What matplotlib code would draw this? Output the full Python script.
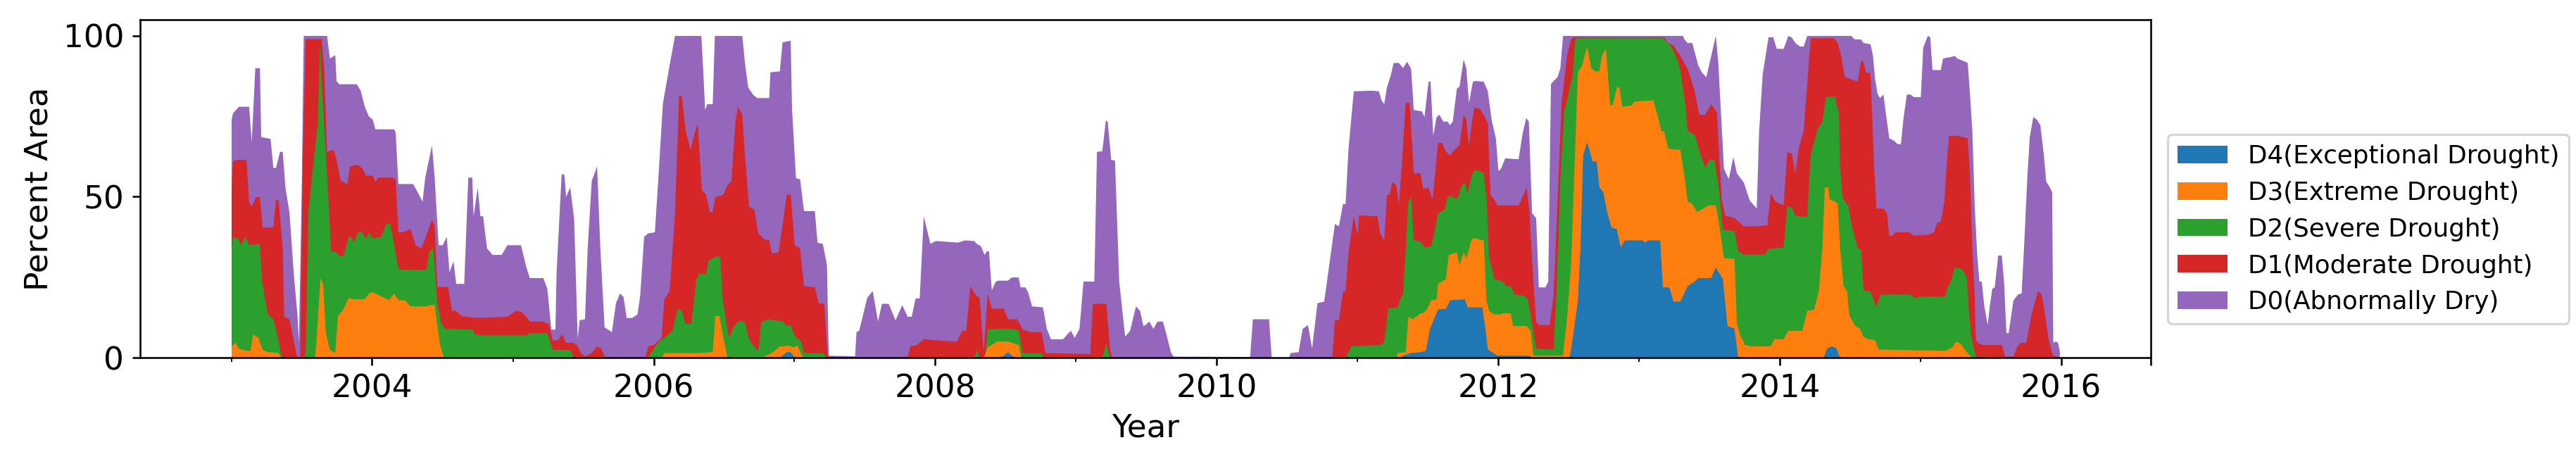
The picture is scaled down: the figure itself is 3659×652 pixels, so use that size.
import numpy as np
import pandas as pd
import matplotlib
matplotlib.use('Agg')
import matplotlib.pyplot as plt
import matplotlib.dates as mdates
from matplotlib.patches import Patch

# Percent area in drought, cumulative (D0 = D0..D4, D1 = D1..D4, ...)
# time given as decimal year

d0_year = [2003.0, 2003.01, 2003.052, 2003.124, 2003.143, 2003.168, 2003.201, 2003.21, 2003.277, 2003.296,
           2003.315, 2003.344, 2003.363, 2003.382, 2003.411, 2003.44, 2003.468, 2003.478, 2003.497, 2003.512,
           2003.678, 2003.698, 2003.736, 2003.745, 2003.764, 2003.889, 2003.917, 2003.946, 2003.975, 2004.003,
           2004.022, 2004.156, 2004.166, 2004.185, 2004.29, 2004.328, 2004.357, 2004.376, 2004.424, 2004.443,
           2004.471, 2004.5, 2004.529, 2004.548, 2004.577, 2004.596, 2004.653, 2004.682, 2004.71, 2004.72,
           2004.749, 2004.768, 2004.787, 2004.815, 2004.854, 2004.92, 2004.959, 2005.054, 2005.093, 2005.117,
           2005.213, 2005.241, 2005.27, 2005.299, 2005.307, 2005.343, 2005.362, 2005.375, 2005.404, 2005.432,
           2005.457, 2005.471, 2005.509, 2005.528, 2005.557, 2005.595, 2005.618, 2005.648, 2005.7, 2005.729,
           2005.757, 2005.782, 2005.805, 2005.843, 2005.882, 2005.901, 2005.929, 2005.958, 2006.006, 2006.034,
           2006.063, 2006.111, 2006.149, 2006.336, 2006.35, 2006.363, 2006.378, 2006.417, 2006.432, 2006.627,
           2006.646, 2006.669, 2006.703, 2006.732, 2006.818, 2006.827, 2006.894, 2006.913, 2006.971, 2006.98,
           2007.009, 2007.038, 2007.066, 2007.143, 2007.162, 2007.2, 2007.229, 2007.242, 2007.429, 2007.439,
           2007.458, 2007.515, 2007.554, 2007.592, 2007.62, 2007.668, 2007.716, 2007.764, 2007.802, 2007.831,
           2007.859, 2007.888, 2007.917, 2007.964, 2008.003, 2008.104, 2008.162, 2008.209, 2008.276, 2008.295,
           2008.324, 2008.349, 2008.368, 2008.381, 2008.401, 2008.429, 2008.448, 2008.516, 2008.544, 2008.592,
           2008.605, 2008.639, 2008.659, 2008.687, 2008.764, 2008.792, 2008.821, 2008.907, 2008.945, 2008.964,
           2008.989, 2009.022, 2009.05, 2009.127, 2009.146, 2009.184, 2009.209, 2009.222, 2009.247, 2009.274,
           2009.304, 2009.346, 2009.381, 2009.423, 2009.452, 2009.476, 2009.49, 2009.518, 2009.547, 2009.576,
           2009.614, 2009.633, 2009.671, 2009.69, 2010.235, 2010.254, 2010.369, 2010.388, 2010.512, 2010.522,
           2010.579, 2010.608, 2010.646, 2010.675, 2010.713, 2010.761, 2010.808, 2010.837, 2010.866, 2010.894,
           2010.913, 2010.933, 2010.971, 2011.101, 2011.15, 2011.169, 2011.188, 2011.207, 2011.236, 2011.255,
           2011.293, 2011.322, 2011.35, 2011.379, 2011.398, 2011.455, 2011.474, 2011.503, 2011.517, 2011.536,
           2011.56, 2011.58, 2011.608, 2011.637, 2011.656, 2011.675, 2011.704, 2011.723, 2011.752, 2011.771,
           2011.79, 2011.818, 2011.838, 2011.895, 2011.924, 2011.952, 2011.981, 2012.0, 2012.019, 2012.048,
           2012.143, 2012.172, 2012.197, 2012.216, 2012.239, 2012.268, 2012.287, 2012.334, 2012.354, 2012.373,
           2012.392, 2012.42, 2012.44, 2012.459, 2013.309, 2013.319, 2013.342, 2013.375, 2013.417, 2013.442,
           2013.475, 2013.542, 2013.559, 2013.6, 2013.634, 2013.667, 2013.692, 2013.742, 2013.783, 2013.833,
           2013.85, 2013.875, 2013.917, 2013.95, 2013.975, 2014.025, 2014.058, 2014.083, 2014.108, 2014.142,
           2014.167, 2014.192, 2014.509, 2014.517, 2014.534, 2014.575, 2014.592, 2014.642, 2014.659, 2014.675,
           2014.692, 2014.709, 2014.734, 2014.75, 2014.775, 2014.808, 2014.834, 2014.858, 2014.875, 2014.9,
           2014.925, 2014.95, 2015.0, 2015.017, 2015.05, 2015.067, 2015.083, 2015.142, 2015.158, 2015.208,
           2015.241, 2015.258, 2015.275, 2015.316, 2015.333, 2015.35, 2015.366, 2015.383, 2015.4, 2015.416,
           2015.433, 2015.45, 2015.475, 2015.491, 2015.508, 2015.525, 2015.55, 2015.575, 2015.591, 2015.608,
           2015.624, 2015.658, 2015.691, 2015.716, 2015.733, 2015.758, 2015.774, 2015.799, 2015.824, 2015.849,
           2015.874, 2015.891, 2015.916, 2015.933, 2015.941, 2015.958, 2015.975, 2015.988]
d0_pct = [74, 76, 78, 78, 67, 90, 90, 68.6, 68, 59,
          59, 64, 64, 53, 45, 27, 13, 5, 50, 100,
          100, 93, 94, 86, 85, 85, 83, 78, 75, 74,
          71, 71, 70, 54, 54, 51, 48.5, 56, 66, 56,
          35, 35, 37.6, 26.6, 30, 23, 23, 56, 56, 44,
          53, 44, 44, 34, 32, 32, 35, 35, 28, 24.8,
          24.8, 21.5, 8.8, 8.8, 26.6, 57, 57, 50, 53, 43,
          6, 11.7, 12, 34, 55, 59.5, 34, 9.5, 8, 17,
          20, 19, 12.4, 12.4, 13.5, 19.3, 37.6, 38.7, 39, 58,
          79, 91, 100, 100, 88.7, 77, 78.8, 78.8, 100, 100,
          91.6, 84, 81.8, 80.7, 80.7, 88.7, 89, 98, 98.5, 77.7,
          55.8, 55.5, 45.6, 45.6, 35.8, 35.4, 28.8, 0.7, 0.5, 8,
          8.4, 18.6, 20.8, 11.3, 16.8, 16.8, 11.7, 16.4, 12.8, 12.8,
          18.5, 18.5, 44, 35.4, 36.3, 36, 35.8, 36.5, 36.3, 35.4,
          34.7, 32, 33.2, 33, 21, 23.7, 24, 24, 25, 25,
          21.9, 21.9, 20.4, 16, 15.7, 9, 5.8, 5.8, 7.7, 8.4,
          6.2, 9, 23.7, 23.7, 64, 64.2, 73.7, 73.4, 61.5, 61.3,
          23.7, 6.6, 8.4, 16, 14.6, 9.9, 10.2, 11.3, 9, 11.3,
          11.3, 8.4, 1.8, 0.4, 0.3, 12, 12, 0, 0, 1.5,
          1.8, 9, 10.2, 2.9, 17, 17.5, 32.5, 41.6, 40.9, 47.8,
          47.8, 64.6, 82.8, 83, 82.8, 80, 78.8, 84, 88, 91.6,
          91.6, 90, 92, 89.8, 77, 76.6, 74.8, 85.8, 85.8, 69,
          74.8, 75.5, 73.4, 73.4, 72.3, 73.4, 83.6, 84.3, 92.7, 90,
          79.2, 85.8, 86, 85.8, 82.8, 73.7, 68.2, 58, 58.8, 62,
          61.7, 69.7, 74.5, 73.4, 45, 43.4, 21.9, 21.9, 23.7, 85,
          86, 87.2, 90, 100, 100, 98.9, 97.8, 97.8, 90.9, 88.7,
          87.2, 100, 92.3, 58.8, 55.5, 62.4, 57.3, 54.4, 48.9, 46.4,
          70.4, 88, 99.6, 99.6, 96, 96, 100, 99.5, 97.8, 96.7,
          96.7, 100, 100, 99.3, 98.9, 98.9, 97.8, 97.4, 94, 86.5,
          82, 80.7, 81.8, 76.3, 68.2, 67.5, 66.4, 66.4, 74, 81.8,
          81.8, 81, 81, 96.4, 100, 99.6, 89.4, 89.4, 93, 93.4,
          93.8, 93, 92.7, 92, 91.6, 81.4, 70.4, 47, 32.5, 23.7,
          23.7, 16.4, 10.2, 16.4, 21.5, 21.9, 31.8, 31.8, 23.7, 7.7,
          7.7, 17.9, 19.7, 20, 34, 57.3, 68.6, 74.8, 74, 72.3,
          63, 54.7, 53, 51.5, 4.7, 5.1, 4.7, 1.8]

d1_year = [2003.0, 2003.01, 2003.029, 2003.105, 2003.124, 2003.143, 2003.172, 2003.201, 2003.22, 2003.296,
           2003.315, 2003.334, 2003.363, 2003.373, 2003.411, 2003.44, 2003.468, 2003.487, 2003.506, 2003.526,
           2003.64, 2003.659, 2003.678, 2003.726, 2003.745, 2003.774, 2003.822, 2003.841, 2003.889, 2003.927,
           2003.955, 2004.003, 2004.022, 2004.041, 2004.137, 2004.166, 2004.185, 2004.213, 2004.271, 2004.309,
           2004.347, 2004.376, 2004.424, 2004.443, 2004.462, 2004.538, 2004.567, 2004.596, 2004.634, 2004.749,
           2004.959, 2005.016, 2005.054, 2005.093, 2005.117, 2005.203, 2005.251, 2005.28, 2005.318, 2005.346,
           2005.375, 2005.423, 2005.452, 2005.48, 2005.509, 2005.557, 2005.595, 2005.624, 2005.652, 2005.939,
           2005.958, 2005.996, 2006.054, 2006.073, 2006.111, 2006.149, 2006.178, 2006.197, 2006.225, 2006.26,
           2006.287, 2006.311, 2006.34, 2006.369, 2006.397, 2006.417, 2006.436, 2006.493, 2006.522, 2006.55,
           2006.579, 2006.598, 2006.627, 2006.646, 2006.675, 2006.713, 2006.741, 2006.78, 2006.818, 2006.837,
           2006.885, 2006.913, 2006.942, 2006.971, 2006.999, 2007.038, 2007.066, 2007.143, 2007.171, 2007.21,
           2007.234, 2007.267, 2007.802, 2007.821, 2007.869, 2007.917, 2008.152, 2008.19, 2008.219, 2008.248,
           2008.276, 2008.315, 2008.343, 2008.372, 2008.401, 2008.487, 2008.516, 2008.582, 2008.62, 2008.678,
           2008.754, 2008.783, 2009.098, 2009.117, 2009.213, 2009.241, 2009.26, 2010.818, 2010.837, 2010.866,
           2010.894, 2010.913, 2010.933, 2010.971, 2011.0, 2011.009, 2011.14, 2011.159, 2011.188, 2011.207,
           2011.226, 2011.245, 2011.274, 2011.293, 2011.312, 2011.341, 2011.369, 2011.398, 2011.446, 2011.465,
           2011.503, 2011.532, 2011.57, 2011.599, 2011.618, 2011.656, 2011.685, 2011.723, 2011.752, 2011.771,
           2011.79, 2011.809, 2011.828, 2011.866, 2011.904, 2011.924, 2011.943, 2011.981, 2011.99, 2012.143,
           2012.172, 2012.201, 2012.22, 2012.239, 2012.268, 2012.287, 2012.363, 2012.392, 2012.42, 2012.449,
           2012.487, 2012.516, 2012.535, 2013.175, 2013.204, 2013.242, 2013.29, 2013.342, 2013.392, 2013.425,
           2013.467, 2013.509, 2013.55, 2013.584, 2013.609, 2013.675, 2013.742, 2013.842, 2013.908, 2013.933,
           2013.967, 2014.025, 2014.05, 2014.083, 2014.108, 2014.133, 2014.167, 2014.217, 2014.384, 2014.409,
           2014.434, 2014.459, 2014.484, 2014.55, 2014.575, 2014.592, 2014.609, 2014.642, 2014.667, 2014.684,
           2014.734, 2014.759, 2014.775, 2014.8, 2014.817, 2014.917, 2014.95, 2015.058, 2015.092, 2015.117,
           2015.142, 2015.167, 2015.183, 2015.2, 2015.258, 2015.333, 2015.35, 2015.366, 2015.383, 2015.391,
           2015.416, 2015.45, 2015.575, 2015.6, 2015.658, 2015.683, 2015.708, 2015.749, 2015.774, 2015.791,
           2015.833, 2015.858, 2015.883, 2015.908, 2015.941, 2015.988]
d1_pct = [53, 61, 61.5, 61.5, 48.5, 47, 50, 50, 40.5, 40.5,
          49, 49, 34, 12.8, 12, 5.5, 0, 0, 63, 99,
          99, 89, 64, 64.6, 61.7, 55, 54, 59.5, 60, 59,
          56.6, 56.6, 54.7, 56, 56, 55.5, 39, 39, 40, 35,
          34, 37, 43, 41, 22, 22, 14.6, 14.6, 13, 12.4,
          12.8, 14.6, 14.4, 12.8, 11.3, 11.3, 10.6, 5.5, 5.5, 7.3,
          4.7, 4.7, 4, 1.5, 0.4, 1.5, 3.6, 3, 0, 0,
          3.6, 4, 6.2, 18.2, 20.8, 45, 81.4, 81.4, 70.4, 64.6,
          69.7, 72.6, 52, 50.7, 45.3, 45.3, 50, 50.7, 53.6, 55,
          74, 78, 75.5, 63, 47, 46, 38.7, 36.9, 36.5, 32.5,
          32.8, 41.2, 50.7, 50.7, 35, 34, 22.3, 21.9, 17, 16.8,
          0.7, 0, 0, 3.6, 4, 5.8, 5, 8.4, 8.4, 22.3,
          20, 18.6, 1.8, 20, 15.3, 15.3, 12, 12, 8.8, 8,
          8, 1.5, 1.2, 16.8, 16.8, 1.8, 0, 0, 11.7, 11.7,
          20.4, 20.8, 32.5, 44, 38, 44.3, 44, 38.7, 36.5, 50.7,
          50.7, 54.7, 53.6, 47.8, 59.5, 79.2, 79.2, 57.3, 57.3, 52.5,
          52.9, 49.3, 66.8, 66.8, 64.6, 62.8, 64.6, 66, 75.5, 74,
          66, 72.6, 77.7, 77.4, 74.8, 72.6, 50.7, 48.5, 47.4, 47.4,
          50, 52.9, 45.6, 30.3, 11.3, 10.2, 10.2, 19.3, 48.5, 79.2,
          93.8, 98.9, 99.6, 99.6, 97.8, 97, 93.8, 89.8, 82.8, 75.5,
          75.5, 78.8, 76.3, 49.3, 44.2, 43.4, 40.9, 40.9, 41.2, 51.1,
          48.5, 47.4, 63.9, 63.5, 57.3, 65.3, 70.4, 99.3, 99.3, 97.8,
          93.8, 87.2, 86.9, 85.8, 92.3, 92, 88.7, 88.3, 60.2, 46.4,
          46.4, 44.9, 38, 38, 39, 39, 38, 38.3, 39, 42,
          42.3, 48.5, 59.5, 69, 69, 68.2, 55.8, 34, 19.3, 5.5,
          4.4, 4, 4, 0.4, 0.4, 3.3, 4.7, 4.7, 10.6, 14.2,
          20.8, 19.7, 13.5, 5.5, 0.7, 0]

d2_year = [2003.0, 2003.01, 2003.048, 2003.067, 2003.096, 2003.124, 2003.201, 2003.216, 2003.258, 2003.296,
           2003.325, 2003.354, 2003.373, 2003.516, 2003.526, 2003.545, 2003.583, 2003.612, 2003.627, 2003.64,
           2003.669, 2003.688, 2003.707, 2003.736, 2003.764, 2003.793, 2003.831, 2003.85, 2003.869, 2003.898,
           2003.927, 2003.955, 2003.975, 2004.003, 2004.061, 2004.099, 2004.127, 2004.156, 2004.185, 2004.213,
           2004.385, 2004.405, 2004.433, 2004.462, 2004.491, 2004.519, 2004.71, 2004.729, 2004.787, 2005.093,
           2005.117, 2005.241, 2005.28, 2005.404, 2005.432, 2005.958, 2005.977, 2006.034, 2006.092, 2006.13,
           2006.168, 2006.197, 2006.222, 2006.264, 2006.302, 2006.321, 2006.369, 2006.388, 2006.436, 2006.47,
           2006.489, 2006.531, 2006.569, 2006.608, 2006.646, 2006.675, 2006.713, 2006.741, 2006.761, 2006.808,
           2006.913, 2006.942, 2006.971, 2006.999, 2007.047, 2007.066, 2007.2, 2007.229, 2008.276, 2008.295,
           2008.315, 2008.353, 2008.372, 2008.448, 2008.553, 2008.592, 2008.62, 2008.754, 2008.773, 2009.184,
           2009.194, 2009.213, 2009.232, 2009.241, 2010.913, 2010.952, 2011.169, 2011.188, 2011.217, 2011.283,
           2011.302, 2011.322, 2011.341, 2011.36, 2011.379, 2011.398, 2011.446, 2011.474, 2011.522, 2011.541,
           2011.57, 2011.599, 2011.618, 2011.637, 2011.666, 2011.694, 2011.713, 2011.732, 2011.761, 2011.78,
           2011.809, 2011.828, 2011.866, 2011.895, 2011.914, 2011.933, 2011.971, 2012.029, 2012.057, 2012.086,
           2012.115, 2012.182, 2012.21, 2012.239, 2012.268, 2012.392, 2012.411, 2012.44, 2012.468, 2012.487,
           2012.526, 2012.545, 2012.564, 2013.166, 2013.213, 2013.242, 2013.271, 2013.29, 2013.328, 2013.342,
           2013.392, 2013.434, 2013.467, 2013.5, 2013.534, 2013.567, 2013.592, 2013.675, 2013.7, 2013.742,
           2013.892, 2013.917, 2014.025, 2014.05, 2014.083, 2014.108, 2014.192, 2014.217, 2014.267, 2014.3,
           2014.325, 2014.392, 2014.4, 2014.417, 2014.425, 2014.442, 2014.459, 2014.484, 2014.509, 2014.534,
           2014.55, 2014.575, 2014.592, 2014.642, 2014.684, 2014.709, 2014.725, 2014.925, 2014.958, 2014.992,
           2015.175, 2015.192, 2015.208, 2015.241, 2015.291, 2015.325, 2015.341, 2015.358, 2015.375, 2015.391,
           2015.988]
d2_pct = [33, 37.6, 37, 35, 37.6, 35, 35.4, 23.7, 13.5, 12,
          7, 0.7, 0, 0, 2, 45.6, 61, 73, 97.5, 85,
          64, 48.5, 33, 33, 31.8, 31.5, 37.6, 37.6, 35.8, 39,
          39, 36.9, 39, 37.2, 37.5, 41.6, 41.6, 35, 27.7, 27.4,
          27.4, 33, 34.3, 17, 10.6, 9, 8.8, 7.3, 7, 7,
          7.7, 7.7, 2.5, 2.5, 0, 0, 1.5, 5, 7, 8.4,
          15.3, 14.6, 10.6, 10.6, 24.5, 26.3, 26, 30.3, 31.4, 31.4,
          17.9, 6.2, 9.9, 11.7, 11, 5.8, 3.3, 2.2, 11, 12,
          11.3, 9.9, 10.2, 6.9, 5, 1.5, 1.5, 0, 0, 2.5,
          0, 0, 8.8, 9, 9, 8.4, 1.5, 1.5, 0, 0,
          1.8, 4.4, 1, 0, 0, 3.6, 4, 5.1, 15.3, 15.7,
          18.2, 20, 34, 48.5, 50, 36.5, 36.1, 34.3, 34.7, 38,
          44.9, 45.6, 46, 50, 50.4, 49.3, 50, 53, 54.4, 51.1,
          56.6, 58.4, 58, 57.3, 50, 31, 24.5, 23.7, 22.3, 22.3,
          19.7, 19.3, 17.9, 10.6, 2.9, 2.6, 19.3, 55.8, 77, 80,
          87.6, 98.9, 99.3, 99.3, 97.4, 95.3, 92.3, 89.4, 78, 70.4,
          69.3, 63, 59.1, 61.7, 61.3, 51.5, 39.8, 39.4, 33.2, 32.1,
          32.1, 33.9, 34.3, 47.1, 46.7, 44.2, 43.8, 63.1, 71.2, 73.4,
          81, 81.2, 78.5, 76.3, 60.2, 50, 48.5, 47.4, 40.9, 36.9,
          34, 33.6, 21, 20.6, 15.7, 19.3, 19.7, 19.7, 18.6, 19,
          19, 22.3, 23, 28.1, 27.7, 25.2, 15, 6.9, 3.3, 0.4,
          0]

d3_year = [2003.0, 2003.029, 2003.048, 2003.105, 2003.134, 2003.153, 2003.191, 2003.22, 2003.258, 2003.334,
           2003.354, 2003.592, 2003.602, 2003.631, 2003.65, 2003.669, 2003.698, 2003.736, 2003.755, 2003.793,
           2003.831, 2003.869, 2003.946, 2003.975, 2004.003, 2004.041, 2004.118, 2004.156, 2004.185, 2004.233,
           2004.271, 2004.385, 2004.405, 2004.443, 2004.481, 2004.51, 2006.054, 2006.073, 2006.321, 2006.417,
           2006.436, 2006.464, 2006.493, 2006.522, 2006.761, 2006.837, 2006.894, 2006.923, 2006.952, 2006.99,
           2007.019, 2007.047, 2007.066, 2008.343, 2008.372, 2008.439, 2008.516, 2008.592, 2008.611, 2011.274,
           2011.283, 2011.341, 2011.36, 2011.388, 2011.417, 2011.446, 2011.465, 2011.494, 2011.522, 2011.56,
           2011.57, 2011.599, 2011.627, 2011.646, 2011.704, 2011.723, 2011.752, 2011.771, 2011.79, 2011.809,
           2011.828, 2011.895, 2011.914, 2011.933, 2011.971, 2012.01, 2012.038, 2012.086, 2012.105, 2012.201,
           2012.229, 2012.248, 2012.449, 2012.459, 2012.487, 2012.516, 2012.545, 2012.564, 2012.592, 2012.631,
           2012.659, 2012.688, 2012.717, 2012.736, 2012.764, 2012.793, 2012.812, 2012.841, 2012.86, 2012.879,
           2012.946, 2012.965, 2013.099, 2013.127, 2013.156, 2013.175, 2013.204, 2013.29, 2013.319, 2013.342,
           2013.375, 2013.409, 2013.492, 2013.542, 2013.567, 2013.6, 2013.675, 2013.692, 2013.717, 2013.75,
           2013.792, 2013.933, 2013.958, 2014.025, 2014.058, 2014.158, 2014.192, 2014.242, 2014.275, 2014.3,
           2014.317, 2014.342, 2014.35, 2014.392, 2014.409, 2014.425, 2014.45, 2014.475, 2014.492, 2014.534,
           2014.567, 2014.592, 2014.625, 2014.675, 2014.7, 2015.175, 2015.225, 2015.25, 2015.283, 2015.325,
           2015.358, 2015.4]
d3_pct = [3.6, 4.7, 2.9, 2.2, 2.2, 7.3, 6.2, 2.5, 1.8, 1.5,
          0, 0, 4.7, 24.8, 23, 7.7, 2.5, 1.5, 13, 15,
          18.6, 18.2, 18.2, 20, 20.4, 19.6, 18, 20, 17.9, 17.9,
          16, 16, 16.4, 16.4, 4, 0, 0, 1.5, 1.5, 1.8,
          13, 13, 6.2, 0, 0, 1.5, 3.6, 3.6, 3.9, 3.3,
          3.9, 1.1, 0, 0, 3.3, 5.1, 5.1, 4, 0, 0,
          1.5, 1.8, 12.8, 12, 12.8, 13.9, 13.9, 15.3, 17.9, 18.2,
          23, 23.7, 24.5, 32, 32.8, 28.8, 32.8, 31, 33.6, 36.9,
          37.2, 36.5, 17.9, 14.6, 13.5, 13.5, 13.9, 13.9, 9.9, 9.9,
          8.4, 0.7, 0.7, 1, 12, 28.8, 64.6, 88.7, 90.5, 96.7,
          90, 89, 89, 94, 96, 78.5, 78.5, 84, 84, 78,
          78.4, 79.6, 80, 75.5, 70.4, 70.4, 65, 64.6, 56.6, 48.5,
          47.8, 45.3, 47.4, 47.4, 41.2, 31, 30.7, 10.6, 6.9, 4,
          3.6, 3.6, 5.8, 5.8, 8.4, 8.4, 14.6, 15, 20.8, 34,
          52.9, 52.9, 49.3, 48.5, 47.8, 34.7, 22.3, 20.8, 13.1, 9.9,
          9.1, 6.6, 5.8, 5.5, 2.6, 2.2, 3.3, 5.1, 4.4, 1.8,
          0.4, 0]

d4_year = [2006.894, 2006.942, 2006.971, 2006.999, 2008.439, 2008.487, 2008.516, 2008.544, 2008.563, 2011.302,
           2011.322, 2011.379, 2011.446, 2011.484, 2011.513, 2011.57, 2011.627, 2011.656, 2011.761, 2011.78,
           2011.885, 2011.904, 2011.924, 2011.952, 2011.99, 2012.22, 2012.239, 2012.506, 2012.526, 2012.564,
           2012.583, 2012.602, 2012.631, 2012.65, 2012.669, 2012.698, 2012.717, 2012.745, 2012.774, 2012.803,
           2012.841, 2012.869, 2012.898, 2013.022, 2013.041, 2013.061, 2013.147, 2013.166, 2013.213, 2013.242,
           2013.29, 2013.342, 2013.392, 2013.417, 2013.509, 2013.542, 2013.592, 2013.625, 2013.675, 2013.7,
           2013.709, 2014.309, 2014.334, 2014.367, 2014.4, 2014.425]
d4_pct = [0, 1.8, 1.8, 0, 0, 0.7, 1.8, 0.7, 0, 0,
          0.7, 1.5, 1.8, 2.2, 9, 15, 15.3, 17.9, 18.2, 15.7,
          15.7, 9.9, 2.6, 1.8, 0.7, 0.7, 0, 0, 5.5, 17.5,
          34, 63, 67, 64, 61, 61, 53, 51.5, 45, 40.5,
          40, 34.3, 36.5, 36.5, 35.8, 36.5, 36.5, 21.9, 21.9, 17.5,
          17.5, 22.3, 23.7, 24.8, 24.8, 28.1, 24.5, 9.9, 9.1, 0.4,
          0, 0, 2.9, 3.6, 2.9, 0]

labels = ['D4(Exceptional Drought)', 'D3(Extreme Drought)', 'D2(Severe Drought)',
          'D1(Moderate Drought)', 'D0(Abnormally Dry)']
colors = ['#1f77b4', '#ff7f0e', '#2ca02c', '#d62728', '#9467bd']
label_years = [2004, 2006, 2008, 2010, 2012, 2014, 2016]


def to_dates(years):
    years = np.asarray(years, dtype=float)
    whole = years.astype(int)
    start = pd.to_datetime([f'{y}-01-01' for y in whole])
    return start + pd.to_timedelta((years - whole) * 365.25, unit='D')


series = [(d4_year, d4_pct), (d3_year, d3_pct), (d2_year, d2_pct), (d1_year, d1_pct), (d0_year, d0_pct)]

fig = plt.figure(figsize=(3659 / 233, 652.3 / 233), dpi=233)
ax = fig.add_axes([0.0543, 0.2209, 0.7807, 0.7362])

# widest band first, so each narrower one sits on top of it
for (yrs, pct), color in reversed(list(zip(series, colors))):
    ax.fill_between(to_dates(yrs), 0, pct, color=color, linewidth=0)

ax.set_ylim(0, 105)
ax.set_yticks([0, 50, 100])

# labelled ticks every 2 years, small ticks every year, plus an unlabelled one at the right end
xmin, xmax = ax.get_xlim()
major = [mdates.date2num(pd.Timestamp(f'{y}-01-01')) for y in label_years] + [xmax - 0.4]
ax.set_xticks(major, [str(y) for y in label_years] + [''])
ax.xaxis.set_minor_locator(mdates.YearLocator(1))
ax.set_xlim(xmin, xmax)
ax.tick_params(labelsize=14)

ax.set_xlabel('Year', fontsize=14)
ax.set_ylabel('Percent Area', fontsize=14)

handles = [Patch(facecolor=c, label=l) for c, l in zip(colors, labels)]
ax.legend(handles=handles, loc='center left', bbox_to_anchor=(1.002, 0.38), fontsize=11)

fig.savefig('out.png', dpi=233)
